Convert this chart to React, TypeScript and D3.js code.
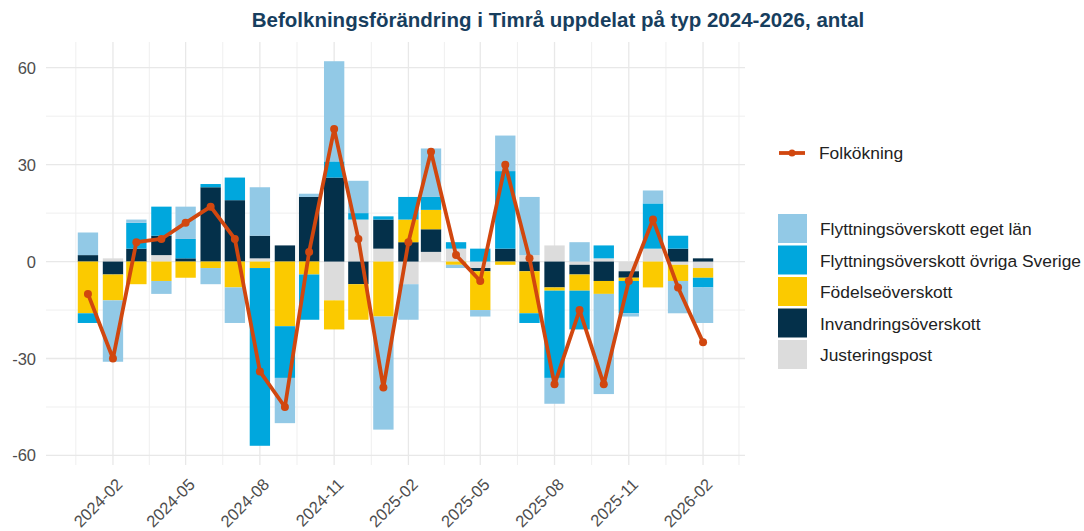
import React from 'react';
import * as d3 from 'd3';

// månader 2024-01 .. 2026-02
const months = [
  '2024-01', '2024-02', '2024-03', '2024-04', '2024-05', '2024-06', '2024-07', '2024-08', '2024-09', '2024-10', '2024-11', '2024-12',
  '2025-01', '2025-02', '2025-03', '2025-04', '2025-05', '2025-06', '2025-07', '2025-08', '2025-09', '2025-10', '2025-11', '2025-12',
  '2026-01', '2026-02'
];

const egetLan = [7, -19, 1, -4, 10, -5, -11, 15, -14, 1, 31, 10, -35, -11, 15, -1, -2, 11, 18, -8, 6, -31, -1, 4, -10, -11];
const ovrigaSverige = [-3, 0, 8, 9, 6, 1, 7, -55, -16, -14, 5, 2, 1, 7, 4, 2, 4, 24, -3, -27, -12, 4, -10, 14, 4, -3];
const fodelse = [-16, -8, -7, -6, -5, -2, -8, -2, -20, -4, -9, -11, -17, 7, 6, -1, -12, -1, -13, -1, -5, -4, -1, -8, -5, -3];
const invandring = [2, -4, 4, 6, 1, 23, 19, 7, 5, 20, 26, -7, 9, 6, 7, 0, -1, 4, -3, -8, -3, -6, -2, 0, 4, 1];
const justering = [0, 1, 0, 2, 0, 0, 0, 1, 0, 0, -12, 13, 4, -7, 3, 4, -2, 0, 2, 5, -1, 1, -3, 4, -1, -2];
const folkokning = [-10, -30, 6, 7, 12, 17, 7, -34, -45, 3, 41, 7, -39, 6, 34, 2, -6, 30, 1, -38, -15, -38, -6, 13, -8, -25];

const yTicks = [-60, -30, 0, 30, 60];
const xTickLabels = ['2024-02', '2024-05', '2024-08', '2024-11', '2025-02', '2025-05', '2025-08', '2025-11', '2026-02'];

// legend order (top to bottom); stacking goes the other way, from zero outward
const series = [
  { key: 'egetLan', label: 'Flyttningsöverskott eget län', color: '#92c9e6', values: egetLan },
  { key: 'ovrigaSverige', label: 'Flyttningsöverskott övriga Sverige', color: '#00a7dd', values: ovrigaSverige },
  { key: 'fodelse', label: 'Födelseöverskott', color: '#fbca00', values: fodelse },
  { key: 'invandring', label: 'Invandringsöverskott', color: '#04304a', values: invandring },
  { key: 'justering', label: 'Justeringspost', color: '#dcdcdc', values: justering }
];

const parseMonth = d3.timeParse('%Y-%m');
const W = 1084;
const H = 531;
const panel = { left: 46, right: 745, top: 42, bottom: 465 };
const lineColor = '#d1470f';
const font = '"Liberation Sans", Arial, sans-serif';

const App = () => {
  const dates = months.map(m => parseMonth(m) as Date);
  const rows = dates.map((d, i) => {
    const r: any = { date: d };
    series.forEach(s => { r[s.key] = s.values[i]; });
    return r;
  });

  const stackKeys = series.map(s => s.key).reverse();
  const stacked = d3.stack().keys(stackKeys).offset(d3.stackOffsetDiverging)(rows);

  // bar width ~ 0.9 of the shortest month
  const barDays = 25.2;
  const dayMs = 86400000;
  const x0 = +dates[0] - (barDays / 2) * dayMs;
  const x1 = +dates[dates.length - 1] + (barDays / 2) * dayMs;
  const padX = (x1 - x0) * 0.05;
  const x = d3.scaleTime()
    .domain([new Date(x0 - padX), new Date(x1 + padX)])
    .range([panel.left, panel.right]);

  const yMin = d3.min(stacked, s => d3.min(s, d => d[0])) as number;
  const yMax = d3.max(stacked, s => d3.max(s, d => d[1])) as number;
  const padY = (yMax - yMin) * 0.05;
  const y = d3.scaleLinear().domain([yMin - padY, yMax + padY]).range([panel.bottom, panel.top]);

  const barW = x(new Date(+dates[0] + barDays * dayMs)) - x(dates[0]);

  // grid
  const majorDates = xTickLabels.map(t => parseMonth(t) as Date);
  const extMajor = [d3.timeMonth.offset(majorDates[0], -3), ...majorDates, d3.timeMonth.offset(majorDates[majorDates.length - 1], 3)];
  const minorDates = extMajor.slice(1).map((d, i) => new Date((+d + +extMajor[i]) / 2))
    .filter(d => x(d) >= panel.left && x(d) <= panel.right);
  const minorY = yTicks.slice(1).map((t, i) => (t + yTicks[i]) / 2);

  const colorOf: any = {};
  series.forEach(s => { colorOf[s.key] = s.color; });

  const linePath = d3.line<number>()
    .x((_, i) => x(dates[i]))
    .y(v => y(v))(folkokning);

  return (
    <div style={{ position: 'fixed', left: 0, top: 0 }}>
      <svg width={W} height={H} style={{ display: 'block', background: '#fff', fontFamily: font }}>
        <text x={558} y={26.5} textAnchor="middle" fontSize={20.5} fontWeight="bold" fill="#173e5e">
          Befolkningsförändring i Timrå uppdelat på typ 2024-2026, antal
        </text>

        <g className="grid">
          {minorY.map(t => (
            <line key={'my' + t} x1={panel.left} x2={panel.right} y1={y(t)} y2={y(t)} stroke="#efefef" strokeWidth={1} />
          ))}
          {minorDates.map(d => (
            <line key={'mx' + (+d)} x1={x(d)} x2={x(d)} y1={panel.top} y2={panel.bottom} stroke="#efefef" strokeWidth={1} />
          ))}
          {yTicks.map(t => (
            <line key={'y' + t} x1={panel.left} x2={panel.right} y1={y(t)} y2={y(t)} stroke="#e8e8e8" strokeWidth={1.3} />
          ))}
          {majorDates.map(d => (
            <line key={'x' + (+d)} x1={x(d)} x2={x(d)} y1={panel.top} y2={panel.bottom} stroke="#e8e8e8" strokeWidth={1.3} />
          ))}
        </g>

        <g className="bars">
          {stacked.map(s => (
            <g key={s.key} fill={colorOf[s.key]}>
              {s.map((d, i) => (
                d[1] - d[0] === 0 ? null :
                <rect key={i}
                  x={x(dates[i]) - barW / 2}
                  width={barW}
                  y={y(Math.max(d[0], d[1]))}
                  height={Math.abs(y(d[0]) - y(d[1]))} />
              ))}
            </g>
          ))}
        </g>

        <path d={linePath || ''} fill="none" stroke={lineColor} strokeWidth={3.8} strokeLinejoin="round" />
        {folkokning.map((v, i) => (
          <circle key={i} cx={x(dates[i])} cy={y(v)} r={4} fill={lineColor} />
        ))}

        <g className="y-axis" fontSize={16.5} fill="#4d4d4d">
          {yTicks.map(t => (
            <text key={t} x={36} y={y(t)} textAnchor="end" dominantBaseline="central">{t}</text>
          ))}
        </g>
        <g className="x-axis" fontSize={16.5} fill="#4d4d4d">
          {majorDates.map((d, i) => (
            <text key={i} transform={`translate(${x(d) + 2},${477}) rotate(-45)`} textAnchor="end" dominantBaseline="hanging">
              {xTickLabels[i]}
            </text>
          ))}
        </g>

        <g className="legend" fontSize={17.4} fill="#222">
          <line x1={779} x2={805} y1={153} y2={153} stroke={lineColor} strokeWidth={3.8} />
          <circle cx={792} cy={153} r={3.5} fill={lineColor} />
          <text x={819} y={153} dominantBaseline="central">Folkökning</text>
          {series.map((s, i) => (
            <g key={s.key} transform={`translate(778,${214 + i * 31.5})`}>
              <rect width={29} height={29} fill={s.color} />
              <text x={42} y={15} dominantBaseline="central">{s.label}</text>
            </g>
          ))}
        </g>
      </svg>
    </div>
  );
};

export default App;
